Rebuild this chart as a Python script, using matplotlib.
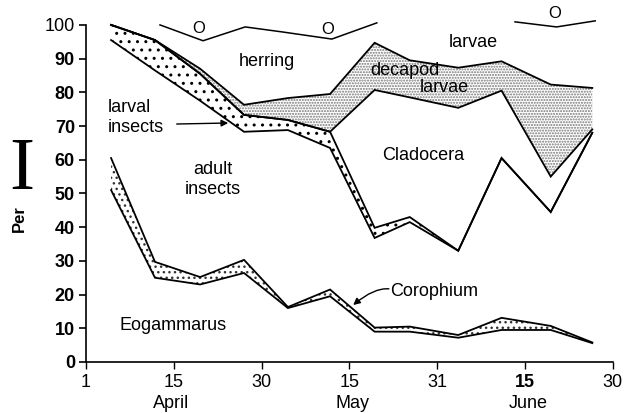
import numpy as np
import matplotlib
matplotlib.use('Agg')
import matplotlib.pyplot as plt

plt.rcParams['font.family'] = ['Liberation Sans', 'DejaVu Sans']
plt.rcParams['hatch.linewidth'] = 1.0

# sampling dates, counted in days from 1 April (April 1 = 1, May 1 = 31, June 1 = 62)
days = [5, 12, 19.5, 27, 34.5, 41.7, 49.6, 56, 64.6, 72, 80.4, 87.5]
# cumulative percentages (upper boundary of each group)
eogammarus_top = [51, 25, 23, 26.4, 16, 19.5, 9, 9, 7.2, 9.5, 9.5, 5.6]
corophium_top = [60.5, 29.7, 25.2, 30.3, 16.3, 21.5, 10.2, 10.5, 8, 13.1, 10.7, 5.8]
adult_insects_top = [95.5, 86.5, 77.5, 68.3, 68.8, 63.5, 36.8, 41.5, 33, 60.5, 44.5, 68]
larval_insects_top = [100, 95.5, 85.5, 73.3, 71.8, 68.3, 39.8, 43, 33, 60.5, 44.5, 68]
cladocera_top = [100, 95.5, 85.5, 73.3, 71.8, 68.3, 80.7, 78.5, 75.4, 80.5, 55, 69]
decapod_top = [100, 95.5, 87, 76.3, 78.3, 79.5, 94.7, 89.5, 87.3, 89.2, 82.3, 81.3]

# "O" traces at the top of the chart
o_line1_days = [12.8, 20, 27.2, 33.6, 42, 50]
o_line1_vals = [100, 95.3, 99.4, 97.9, 95.8, 100.6]
o_line2_days = [74.3, 81.4, 88]
o_line2_vals = [100.9, 99.4, 101.2]
o_mark_days = [19.3, 41.3, 81.1]
o_mark_vals = [98.8, 98.5, 103.3]

tick_days = [1, 15, 30, 45, 61, 76, 91]
tick_labels = ['1', '15', '30', '15', '31', '15', '30']
month_days = [14.5, 45.5, 76.5]
month_labels = ['April', 'May', 'June']
y_ticks = list(range(0, 101, 10))

tick_idx = np.arange(len(tick_days), dtype=float)


def fwd(d):
    return np.interp(d, tick_days, tick_idx)


def inv(p):
    return np.interp(p, tick_idx, tick_days)


fig = plt.figure(figsize=(6.24, 4.13), dpi=100)
ax = fig.add_axes([0.1378, 0.1235, 0.8442, 0.857])
ax.set_xscale('function', functions=(fwd, inv))
ax.set_xlim(1, 91)
ax.set_ylim(0, 105)

lw = 1.3
d = np.array(days)
# fills
ax.fill_between(d, eogammarus_top, corophium_top, facecolor='white',
                edgecolor='#333333', hatch='...', linewidth=0)
ax.fill_between(d, adult_insects_top, larval_insects_top, facecolor='white',
                edgecolor='black', hatch='..', linewidth=0)
ax.fill_between(d, cladocera_top, decapod_top, facecolor='white',
                edgecolor='#777777', hatch='......', linewidth=0)

for series in [eogammarus_top, corophium_top, adult_insects_top,
               larval_insects_top, cladocera_top, decapod_top]:
    ax.plot(d, series, color='black', lw=lw, solid_joinstyle='miter')

ax.plot(o_line1_days, o_line1_vals, color='black', lw=1.1, clip_on=False)
ax.plot(o_line2_days, o_line2_vals, color='black', lw=1.1, clip_on=False)
for xd, yv in zip(o_mark_days, o_mark_vals):
    ax.text(xd, yv, 'O', fontsize=12, ha='center', va='center', clip_on=False)

fs = 13
ax.text(30.9, 89.0, 'herring', fontsize=fs, ha='center', va='center')
ax.text(67.1, 94.7, 'larvae', fontsize=fs, ha='center', va='center')
ax.text(55.1, 86.6, 'decapod', fontsize=fs, ha='center', va='center')
ax.text(62.3, 81.3, 'larvae', fontsize=fs, ha='center', va='center')
ax.text(58.4, 61.4, 'Cladocera', fontsize=fs, ha='center', va='center')
ax.text(4.5, 75.4, 'larval', fontsize=fs, ha='left', va='center')
ax.text(4.5, 69.7, 'insects', fontsize=fs, ha='left', va='center')
ax.text(21.7, 57.0, 'adult', fontsize=fs, ha='center', va='center')
ax.text(21.7, 51.3, 'insects', fontsize=fs, ha='center', va='center')
ax.text(6.3, 10.7, 'Eogammarus', fontsize=fs, ha='left', va='center')
ax.text(52.5, 20.8, 'Corophium', fontsize=fs, ha='left', va='center')

ax.annotate('', xy=(24.3, 70.9), xytext=(15.5, 70.6),
            arrowprops=dict(arrowstyle='-|>', color='black', lw=1.0,
                            mutation_scale=10, shrinkA=0, shrinkB=0))
ax.annotate('', xy=(45.7, 16.9), xytext=(52.2, 21.7),
            arrowprops=dict(arrowstyle='-|>', color='black', lw=1.0,
                            mutation_scale=10, shrinkA=0, shrinkB=0,
                            connectionstyle='angle3,angleA=175,angleB=40'))

# axes styling
for s in ['top', 'right']:
    ax.spines[s].set_visible(False)
ax.spines['left'].set_bounds(0, 100)
ax.spines['left'].set_linewidth(1.2)
ax.spines['bottom'].set_linewidth(1.2)

ax.set_yticks(y_ticks)
ax.set_yticklabels([str(v) for v in y_ticks])
for lab in ax.get_yticklabels():
    lab.set_fontweight('normal' if lab.get_text() == '100' else 'bold')
ax.tick_params(axis='y', direction='out', length=5, width=1.2, pad=3, labelsize=13)

ax.set_xticks(tick_days)
ax.set_xticklabels(tick_labels)
xl = ax.get_xticklabels()
xl[5].set_fontweight('bold')
ax.tick_params(axis='x', direction='out', length=5, width=1.0, pad=4, labelsize=13)

xt = ax.get_xaxis_transform()
for md, ml in zip(month_days, month_labels):
    ax.text(md, -0.116, ml, fontsize=13, ha='center', va='center', transform=xt)

fig.text(19 / 624, 1 - 219 / 413, 'Per', rotation=90, fontsize=12, fontweight='bold',
         ha='center', va='center')
fig.text(22 / 624, 1 - 171 / 413, 'I', family='Liberation Serif', fontsize=54,
         ha='center', va='center')

fig.savefig('out.png', dpi=100)
